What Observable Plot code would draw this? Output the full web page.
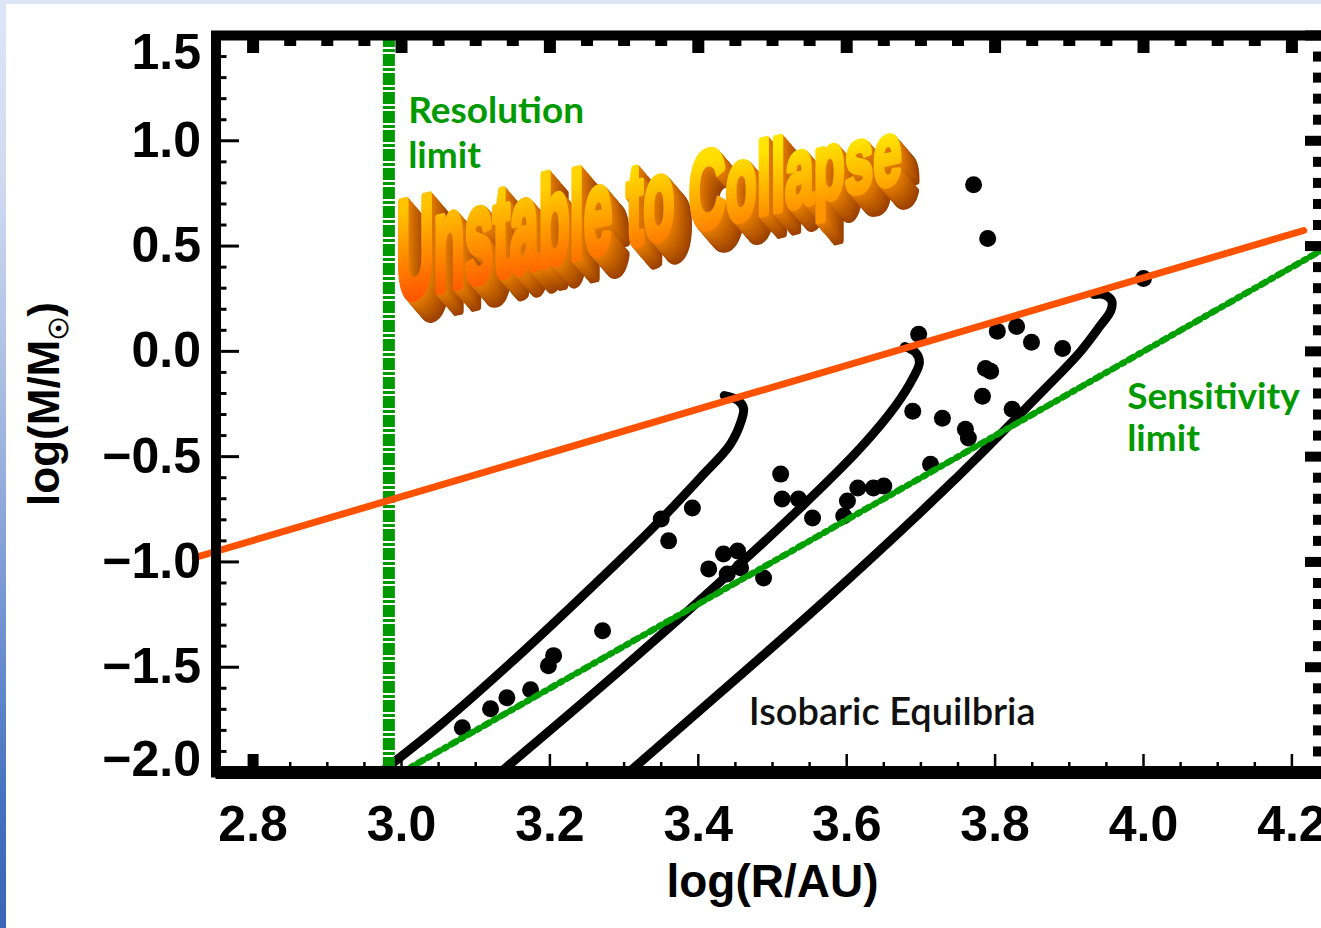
<!DOCTYPE html>
<html><head><meta charset="utf-8">
<script src="https://cdn.jsdelivr.net/npm/d3@7"></script>
<script src="https://cdn.jsdelivr.net/npm/@observablehq/plot@0.6"></script>
<style>
html,body{margin:0;padding:0}
body{width:1321px;height:928px;overflow:hidden;position:relative;
 background:linear-gradient(180deg,#dde6f7 0%,#cfdaf1 20%,#a3b8e1 45%,#7092d2 68%,#4672c0 86%,#3a64b5 100%);}
#panel{position:absolute;left:6px;top:4px;width:1345px;height:924px;background:#fff;overflow:hidden}
</style></head><body><div id="panel"></div>
<script>
// ---- axis ticks ----
const xMajorTicks = [2.8, 3.0, 3.2, 3.4, 3.6, 3.8, 4.0, 4.2];
const yMajorTicks = [-2.0, -1.5, -1.0, -0.5, 0.0, 0.5, 1.0, 1.5];
const xMinorTicks = d3.range(56, 85).map(i => i / 20).filter(v => !xMajorTicks.some(m => Math.abs(m - v) < 1e-9));
const yMinorTicks = d3.range(-20, 16).map(i => i / 10).filter(v => !yMajorTicks.some(m => Math.abs(m - v) < 1e-9));

// ---- limits ----
const resolutionLimitR = [2.983];
const sensitivityR = [3.0, 4.25];
const sensitivityM = [-2.0, 0.5];
const collapseR = [2.722, 4.216];
const collapseM = [-0.979, 0.574];

// ---- isobaric equilibria ----
const iso1R = [2.972, 3.053, 3.147, 3.241, 3.336, 3.403, 3.443, 3.458, 3.461, 3.454, 3.435];
const iso1M = [-2.0, -1.772, -1.480, -1.171, -0.848, -0.599, -0.442, -0.329, -0.272, -0.234, -0.210];
const iso2R = [3.133, 3.268, 3.403, 3.538, 3.619, 3.666, 3.689, 3.698, 3.693, 3.678];
const iso2M = [-2.0, -1.596, -1.179, -0.742, -0.457, -0.258, -0.129, -0.053, -0.006, 0.023];
const iso3R = [3.306, 3.430, 3.578, 3.740, 3.861, 3.915, 3.942, 3.956, 3.957, 3.946, 3.933];
const iso3M = [-2.0, -1.620, -1.160, -0.628, -0.200, -0.001, 0.123, 0.194, 0.241, 0.270, 0.270];

// ---- cores ----
const cloudR = [3.082, 3.120, 3.142, 3.174, 3.198, 3.205, 3.271, 3.350, 3.360, 3.392, 3.414, 3.434, 3.453, 3.457, 3.439, 3.488,
  3.511, 3.513, 3.535, 3.554, 3.596, 3.601, 3.615, 3.636, 3.650, 3.689, 3.697, 3.713, 3.729, 3.760, 3.764, 3.783, 3.787, 3.794,
  3.803, 3.829, 3.849, 3.891, 3.823, 3.771, 3.790, 4.000];
const cloudM = [-1.787, -1.697, -1.645, -1.607, -1.493, -1.445, -1.327, -0.796, -0.900, -0.744, -1.033, -0.962, -0.948, -1.028, -1.057, -1.076,
  -0.583, -0.701, -0.701, -0.791, -0.782, -0.711, -0.649, -0.649, -0.640, -0.284, 0.081, -0.536, -0.318, -0.370, -0.412, -0.213, -0.081, -0.095,
  0.095, 0.118, 0.043, 0.014, -0.275, 0.791, 0.536, 0.346];

// ---- annotations ----
const resolutionLabel = [{text: "Resolution\nlimit", R: 3.009, M: 1.238}];
const sensitivityLabel = [{text: "Sensitivity\nlimit", R: 3.978, M: -0.129}];
const isobarLabel = [{text: "Isobaric Equilbria", R: 3.468, M: -1.644}];
const wordArt = {text: "Unstable to Collapse", R: 2.994, M: 0.241};
const xLabel = "log(R/AU)";
const yLabel = "log(M/M☉)";

// ---- tables ----
const isobars = [[iso1R, iso1M], [iso2R, iso2M], [iso3R, iso3M]]
  .flatMap(([r, m], k) => r.map((v, i) => ({curve: k, R: v, M: m[i]})));
const cloud = cloudR.map((r, i) => ({R: r, M: cloudM[i]}));
const sensitivity = sensitivityR.map((r, i) => ({R: r, M: sensitivityM[i]}));
const collapse = collapseR.map((r, i) => ({R: r, M: collapseM[i]}));

const W = 1345, H = 924, ML = 209.5, MR = 22.5, MT = 31, MB = 156;
const IW = W - ML - MR, IH = H - MT - MB;
const FONT = '"Liberation Sans", Arial, Helvetica, sans-serif';
const fmt = d3.format(".1f");
const GREEN = "#009a00";
const tickLabel = {tickSize: 0, tickFormat: fmt, fontSize: 50, fontWeight: "bold", label: null};

const plot = Plot.plot({
  width: W, height: H, marginLeft: ML, marginRight: MR, marginTop: MT, marginBottom: MB,
  x: {domain: [2.75, 4.25]},
  y: {domain: [-2, 1.5]},
  style: {background: "white", fontFamily: FONT, maxWidth: "none", overflow: "visible"},
  marks: [
    Plot.line(isobars, {x: "R", y: "M", z: "curve", stroke: "black", strokeWidth: 9, curve: "catmull-rom"}),
    Plot.dot(cloud, {x: "R", y: "M", r: 8.5, fill: "black"}),
    Plot.ruleX(resolutionLimitR, {x: d => d, stroke: GREEN, strokeWidth: 12, strokeDasharray: "12,2,3,2"}),
    Plot.line(sensitivity, {x: "R", y: "M", stroke: "#00a000", strokeWidth: 6.5, strokeDasharray: "6,5,3,5"}),
    Plot.line(collapse, {x: "R", y: "M", stroke: "#ff5200", strokeWidth: 7, clip: false}),
    // ticks
    Plot.tickX(xMajorTicks, {x: d => d, insetTop: IH - 18, strokeWidth: 2.5}),
    Plot.tickX(xMinorTicks, {x: d => d, insetTop: IH - 10, strokeWidth: 2.5}),
    Plot.tickX(xMajorTicks.slice(0, 1), {x: d => d, insetTop: IH - 18, strokeWidth: 11}),
    Plot.tickX(xMajorTicks, {x: d => d, insetBottom: IH - 18, strokeWidth: 12}),
    Plot.tickX(xMinorTicks, {x: d => d, insetBottom: IH - 11, strokeWidth: 12}),
    Plot.tickY(yMajorTicks, {y: d => d, insetRight: IW - 23.5, strokeWidth: 3}),
    Plot.tickY(yMinorTicks, {y: d => d, insetRight: IW - 11, strokeWidth: 3}),
    Plot.tickY(yMajorTicks, {y: d => d, insetLeft: IW - 23.5, strokeWidth: 10}),
    Plot.tickY(yMinorTicks, {y: d => d, insetLeft: IW - 15.5, strokeWidth: 10}),
    // frame
    Plot.frame({stroke: "black", strokeWidth: 10}),
    Plot.ruleY([-2], {y: d => d, stroke: "black", strokeWidth: 13}),
    // tick labels
    Plot.axisX(xMajorTicks, {anchor: "bottom", tickPadding: 33, ...tickLabel}),
    Plot.axisY(yMajorTicks.filter(v => v > -2 && v < 1.5), {anchor: "left", tickPadding: 15, ...tickLabel}),
    Plot.axisY(yMajorTicks.filter(v => v >= 1.5), {anchor: "left", tickPadding: 15, dy: 17, ...tickLabel}),
    Plot.axisY(yMajorTicks.filter(v => v <= -2), {anchor: "left", tickPadding: 15, dy: -13, ...tickLabel}),
    // axis titles
    Plot.text([xLabel], {frameAnchor: "bottom", lineAnchor: "middle", textAnchor: "middle", dy: 110, fontSize: 46, fontWeight: "bold", fill: "black"}),
    Plot.text([yLabel], {frameAnchor: "left", lineAnchor: "middle", textAnchor: "middle", rotate: -90, dx: -171, fontSize: 44, fontWeight: "bold", fill: "black"}),
    // annotations
    Plot.text(resolutionLabel, {x: "R", y: "M", text: "text", textAnchor: "start", lineAnchor: "top", lineHeight: 1.22, fontSize: 37, fontWeight: "bold", fontFamily: "Lato", fill: GREEN}),
    Plot.text(sensitivityLabel, {x: "R", y: "M", text: "text", textAnchor: "start", lineAnchor: "top", lineHeight: 1.15, fontSize: 37, fontWeight: "bold", fontFamily: "Lato", fill: GREEN}),
    Plot.text(isobarLabel, {x: "R", y: "M", text: "text", textAnchor: "start", lineAnchor: "top", fontSize: 38, fontWeight: 600, fontFamily: "Lato", fill: "#111"})
  ]
});
document.getElementById("panel").append(plot);

const sel = d3.select(plot);
// subscript sun symbol in y title
sel.selectAll("text").filter(function () { return this.textContent === yLabel; }).each(function () {
  const t = d3.select(this);
  t.text(null);
  t.append("tspan").text("log(M/M");
  t.append("tspan").attr("font-size", 26).attr("dy", 9).text("☉");
  t.append("tspan").attr("dy", -9).text(")");
});

// WordArt "Unstable to Collapse"
(function () {
  const X = plot.scale("x"), Y = plot.scale("y");
  const ox = X.apply(wordArt.R), oy = Y.apply(wordArt.M);
  const FS = 140, WA_W = 505, SKEW = 13.2, SHRINK = 0.38, DX = 18, DY = 21, N = 22, THICK = 9;
  const G = sel.append("g").attr("font-family", FONT).attr("font-weight", "bold").attr("font-size", FS).attr("text-anchor", "start");
  const chars = Array.from(wordArt.text);
  const tmp = G.append("text").attr("visibility", "hidden");
  const adv = chars.map(c => { tmp.text(c === " " ? "\u00a0" : c); return tmp.node().getComputedTextLength(); });
  tmp.remove();
  const hs = WA_W / d3.sum(adv);
  const k = Math.tan(SKEW * Math.PI / 180);
  let acc = 0;
  const glyphs = chars.map((c, i) => { const gx = acc * hs; acc += adv[i]; return {c, gx, vs: 1 - SHRINK * gx / WA_W}; });
  const defs = sel.append("defs");
  glyphs.forEach((g, i) => {
    const f = g.gx / WA_W;
    const lg = defs.append("linearGradient").attr("id", "waG" + i).attr("x1", 0).attr("y1", 0).attr("x2", 0).attr("y2", 1);
    lg.append("stop").attr("offset", "25%").attr("stop-color", d3.interpolateRgb("#ffc400", "#fff200")(f));
    lg.append("stop").attr("offset", "85%").attr("stop-color", d3.interpolateRgb("#ff5200", "#ffa400")(f));
  });
  const drawWord = (dx, dy, fill) => glyphs.forEach((g, i) => {
    if (g.c === " ") return;
    const paint = typeof fill === "function" ? fill(i) : fill;
    G.append("text")
      .attr("transform", `translate(${ox + g.gx + dx},${oy - k * g.gx + dy}) skewY(${-SKEW}) scale(${hs},${g.vs})`)
      .attr("fill", paint).attr("stroke", paint).attr("stroke-width", THICK).attr("stroke-linejoin", "round")
      .text(g.c);
  });
  for (let j = N; j >= 1; j--) drawWord(DX * j / N, DY * j / N, d3.interpolateRgb("#e47c00", "#9a4000")(j / N));
  drawWord(0, 0, i => `url(#waG${i})`);
})();
</script></body></html>
